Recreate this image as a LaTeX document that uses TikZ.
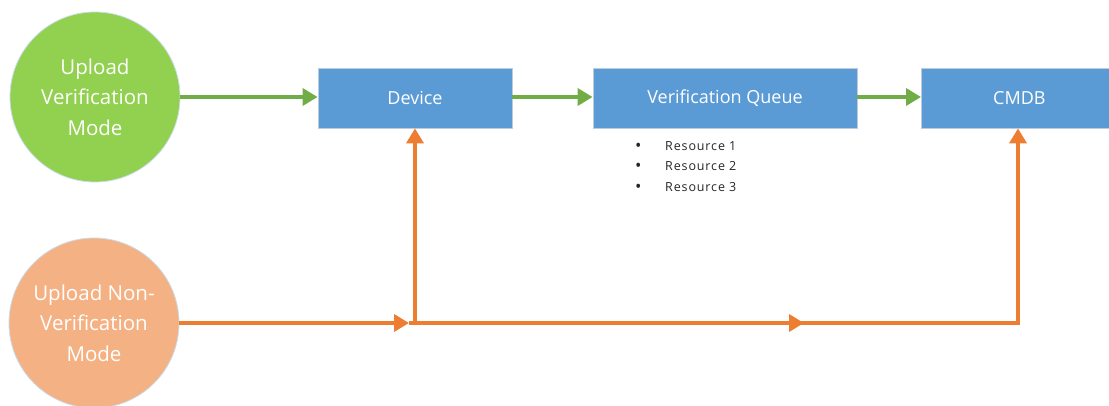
\documentclass[tikz,border=0pt]{standalone}
\usepackage{fontspec}
\setmainfont{Open Sans}
\usetikzlibrary{arrows.meta}
\definecolor{vgreen}{HTML}{92D050}
\definecolor{vgreenline}{HTML}{70AD47}
\definecolor{nvorange}{HTML}{F4B183}
\definecolor{nvorangeline}{HTML}{ED7D31}
\definecolor{boxblue}{HTML}{5B9BD5}
\definecolor{boxedge}{HTML}{BFCBD8}
\definecolor{ringedge}{HTML}{C9DCEB}
\newcommand{\resitem}[1]{\makebox[12pt][c]{\raisebox{-1.2pt}{\fontsize{17}{16}\selectfont\textbullet}}\hspace{21pt}#1}
\tikzset{
  modecircle/.style={circle, minimum size=170pt, inner sep=0pt, draw=ringedge, line width=0.8pt,
    text=white, align=center, font=\fontsize{20.5}{30.5}\selectfont},
  stagebox/.style={rectangle, fill=boxblue, draw=boxedge, line width=0.8pt, text=white,
    font=\fontsize{18}{20}\selectfont, inner sep=0pt},
  garrow/.style={draw=vgreenline, line width=3.6pt, -{Triangle[length=15pt,width=17pt]}},
  oarrow/.style={draw=nvorangeline, line width=3.6pt, -{Triangle[length=15pt,width=17pt]}},
  oline/.style={draw=nvorangeline, line width=3.6pt},
  reslist/.style={font=\fontsize{12.5}{20.5}\selectfont\addfontfeatures{LetterSpace=7}, text=black!85,
    anchor=north west, inner sep=0pt, align=left}
}
\begin{document}
\begin{tikzpicture}[x=1pt, y=-1pt]
  \useasboundingbox (0,0) rectangle (1109,406);
  \begin{scope}
    \clip (0,0) rectangle (1109,406);
    % the two upload modes
    \node[modecircle, fill=vgreen] (vmode) at (95,97) {Upload\\Verification\\Mode};
    \node[modecircle, fill=nvorange] (nvmode) at (94,323) {Upload Non-\\Verification\\Mode};
    % processing stages
    \node[stagebox, minimum width=194pt, minimum height=60pt] (dev) at (415,98) {Device};
    \node[stagebox, minimum width=264pt, minimum height=60pt] (queue) at (725,98) {Verification Queue};
    \node[stagebox, minimum width=196pt, minimum height=60pt, anchor=west] (cmdb) at (921,98) {CMDB};
    % resource list under the queue
    \node[reslist] (res) at (632,141) {\resitem{Resource 1}\\\resitem{Resource 2}\\\resitem{Resource 3}};
    % verification path
    \draw[garrow] (vmode.east |- 0,97) -- (dev.west |- 0,97);
    \draw[garrow] (dev.east |- 0,97) -- (queue.west |- 0,97);
    \draw[garrow] (queue.east |- 0,97) -- (cmdb.west |- 0,97);
    % non-verification path
    \coordinate (a1) at (409,323);
    \coordinate (j1) at (415,323);
    \coordinate (a2) at (804,323);
    \coordinate (j2) at (1018,323);
    \draw[oarrow] (nvmode.east) -- (a1);
    \draw[oline] (a1) -- (a2);
    \draw[oarrow] (a1) -- (a2);
    \draw[oarrow] (a2) -- (j2) -- (j2 |- cmdb.south);
    \draw[oarrow] (j1) -- (j1 |- dev.south);
  \end{scope}
\end{tikzpicture}
\end{document}
